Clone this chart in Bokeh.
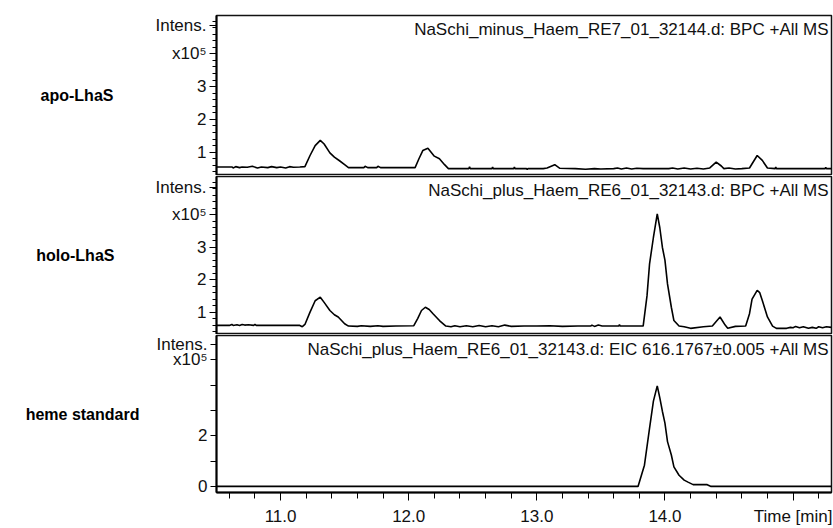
from bokeh.plotting import figure
from bokeh.layouts import column
from bokeh.models import Range1d, FixedTicker
from bokeh.core.properties import value
from bokeh.embed import file_html
from bokeh.resources import INLINE

FONT = "Liberation Sans"

# ---------------- data ----------------
x_start, x_end = 10.5, 15.3

apo_t = [10.5, 10.62, 10.63, 10.65, 10.68, 10.7, 10.74, 10.78, 10.82, 10.85, 10.9, 10.93, 10.97, 11.0, 11.04,
         11.07, 11.1, 11.15, 11.19, 11.23, 11.27, 11.31, 11.34, 11.385, 11.42, 11.46, 11.5, 11.53, 11.65, 11.66,
         11.68, 11.75, 11.76, 11.78, 12.05, 12.08, 12.11, 12.15, 12.2, 12.24, 12.28, 12.31, 12.47, 12.475, 12.48,
         12.65, 12.655, 12.66, 12.82, 12.825, 12.83, 12.92, 12.925, 12.93, 13.05, 13.08, 13.14, 13.18, 13.3, 13.38,
         13.45, 13.5, 13.6, 13.63, 13.66, 13.7, 13.74, 13.78, 13.83, 14.03, 14.06, 14.1, 14.15, 14.2, 14.25, 14.3,
         14.35, 14.40, 14.44, 14.46, 14.5, 14.55, 14.6, 14.66, 14.72, 14.76, 14.8, 14.86, 14.865, 14.87, 15.25,
         15.255, 15.26, 15.3]
apo_v = [0.55, 0.55, 0.52, 0.56, 0.53, 0.55, 0.54, 0.57, 0.52, 0.55, 0.53, 0.56, 0.53, 0.55, 0.52,
         0.56, 0.54, 0.55, 0.56, 0.9, 1.2, 1.36, 1.25, 0.98, 0.85, 0.74, 0.62, 0.53, 0.53, 0.57,
         0.53, 0.53, 0.57, 0.53, 0.53, 0.8, 1.05, 1.12, 0.88, 0.8, 0.62, 0.5, 0.5, 0.56, 0.5,
         0.5, 0.55, 0.5, 0.5, 0.55, 0.5, 0.5, 0.47, 0.5, 0.5, 0.52, 0.62, 0.51, 0.5, 0.48,
         0.5, 0.49, 0.5, 0.52, 0.49, 0.52, 0.49, 0.51, 0.5, 0.5, 0.52, 0.49, 0.52, 0.49, 0.51, 0.49,
         0.52, 0.7, 0.58, 0.5, 0.52, 0.49, 0.5, 0.52, 0.9, 0.75, 0.52, 0.5, 0.55, 0.5, 0.5,
         0.54, 0.5, 0.5]

holo_t = [10.5, 10.6, 10.62, 10.63, 10.66, 10.68, 10.7, 10.72, 10.75, 10.79, 10.8, 10.81, 11.15, 11.17, 11.19,
          11.23, 11.27, 11.31, 11.34, 11.385, 11.42, 11.45, 11.5, 11.53, 11.6, 11.63, 11.7, 11.76, 11.8, 11.9,
          12.04, 12.07, 12.1, 12.13, 12.16, 12.19, 12.24, 12.29, 12.33, 12.36, 12.4, 12.45, 12.5, 12.55, 12.6,
          12.65, 12.7, 12.75, 12.8, 12.9, 13.0, 13.1, 13.2, 13.32, 13.42, 13.43, 13.45, 13.48, 13.51, 13.64,
          13.645, 13.65, 13.83, 13.86, 13.88, 13.91, 13.94, 13.96, 13.98, 14.0, 14.02, 14.05, 14.07, 14.11, 14.15,
          14.2, 14.3, 14.37, 14.43, 14.47, 14.49, 14.55, 14.63, 14.66, 14.68, 14.72, 14.74, 14.76, 14.8, 14.84,
          14.87, 14.95, 14.98, 15.0, 15.02, 15.05, 15.08, 15.12, 15.15, 15.18, 15.2, 15.23, 15.26, 15.3]
holo_v = [0.59, 0.59, 0.62, 0.59, 0.61, 0.59, 0.62, 0.6, 0.61, 0.59, 0.62, 0.59, 0.59, 0.55, 0.62,
          1.0, 1.35, 1.46, 1.3, 1.05, 0.92, 0.85, 0.64, 0.57, 0.56, 0.58, 0.56, 0.58, 0.56, 0.57,
          0.58, 0.8, 1.05, 1.15, 1.08, 0.95, 0.74, 0.57, 0.55, 0.58, 0.55, 0.58, 0.55, 0.59, 0.55,
          0.58, 0.55, 0.6, 0.56, 0.57, 0.57, 0.58, 0.56, 0.57, 0.57, 0.6, 0.56, 0.6, 0.57, 0.57,
          0.62, 0.57, 0.57, 1.5, 2.49, 3.3, 4.03, 3.6, 3.0, 2.6, 1.87, 1.15, 0.74, 0.57, 0.55,
          0.5, 0.55, 0.57, 0.85, 0.6, 0.5, 0.56, 0.57, 0.95, 1.4, 1.67, 1.6, 1.36, 0.85, 0.57,
          0.5, 0.5, 0.53, 0.52, 0.56, 0.52, 0.55, 0.5, 0.53, 0.5, 0.55, 0.52, 0.55, 0.53]

heme_t = [10.5, 13.79, 13.84, 13.88, 13.91, 13.94, 13.96, 13.98, 14.0, 14.02, 14.05, 14.07, 14.11, 14.15,
          14.18, 14.22, 14.33, 14.36, 15.3]
heme_v = [0.0, 0.0, 0.84, 2.3, 3.37, 3.97, 3.5, 2.97, 2.5, 1.77, 1.24, 0.77, 0.44, 0.25,
          0.17, 0.07, 0.07, 0.0, 0.0]

panel_labels = ["apo-LhaS", "holo-LhaS", "heme standard"]
titles = ["NaSchi_minus_Haem_RE7_01_32144.d: BPC +All MS",
          "NaSchi_plus_Haem_RE6_01_32143.d: BPC +All MS",
          "NaSchi_plus_Haem_RE6_01_32143.d: EIC 616.1767\u00b10.005 +All MS"]

y_ranges = [(0.29, 5.17), (0.31, 5.18), (-0.24, 5.96)]

ab_major = [1, 2, 3, 4, 4.85]
ab_minor = [round(0.4 + 0.2 * i, 2) for i in range(24)]
ab_labels = {1: "1", 2: "2", 3: "3", 4: "x10\u2075", 4.85: "Intens."}

c_major = [0, 2, 5, 5.6]
c_minor = [1, 3, 4]
c_labels = {0: "0", 2: "2", 5: "x10\u2075", 5.6: "Intens."}

x_major = [11, 12, 13, 14, 15]
x_minor = [round(10.6 + 0.2 * i, 2) for i in range(24)]
x_labels = {11: "11.0", 12: "12.0", 13: "13.0", 14: "14.0", 15: "Time [min]"}

W = 833
heights = [175, 159, 194]
tops = [15, 1, 1]
label_standoffs = [39, 38, 14]


def make_panel(i, t, v, major, minor, labels, last):
    y0, y1 = y_ranges[i]
    p = figure(width=W, height=heights[i], output_backend="svg", toolbar_location=None,
               x_range=Range1d(x_start, x_end), y_range=Range1d(y0, y1),
               x_axis_location="below" if last else None,
               min_border_left=216, min_border_right=2, min_border_top=tops[i],
               min_border_bottom=0)
    p.grid.visible = False
    p.outline_line_color = "#111111"
    p.outline_line_width = 1.5
    p.background_fill_color = "white"
    p.border_fill_color = "white"

    p.line(t, v, line_color="black", line_width=1.6)

    p.text(x=[x_end], y=[y1], text=[titles[i]], text_align="right", text_baseline="top",
           x_offset=-3, y_offset=4, text_font=value(FONT), text_font_size="17px",
           text_color="#111111")

    ya = p.yaxis[0]
    ya.ticker = FixedTicker(ticks=major, minor_ticks=minor)
    ya.major_label_overrides = labels
    ya.major_label_text_font = FONT
    ya.major_label_text_font_size = "17px"
    ya.major_label_text_color = "#111111"
    ya.axis_line_color = "black"
    ya.axis_line_width = 2
    ya.major_tick_line_color = "black"
    ya.minor_tick_line_color = "black"
    ya.major_tick_out = 7 if not last else 6
    ya.major_tick_in = 0
    ya.minor_tick_out = 4 if not last else 6
    ya.minor_tick_in = 0
    ya.major_label_standoff = 3
    ya.axis_label = panel_labels[i]
    ya.axis_label_orientation = "horizontal"
    ya.axis_label_text_font = FONT
    ya.axis_label_text_font_style = "bold"
    ya.axis_label_text_font_size = "16px"
    ya.axis_label_text_color = "black"
    ya.axis_label_standoff = label_standoffs[i]

    if last:
        xa = p.xaxis[0]
        xa.ticker = FixedTicker(ticks=x_major, minor_ticks=x_minor)
        xa.major_label_overrides = x_labels
        xa.major_label_text_font = FONT
        xa.major_label_text_font_size = "17px"
        xa.major_label_text_color = "#111111"
        xa.major_label_text_line_height = 1.0
        xa.axis_line_color = "black"
        xa.axis_line_width = 2
        xa.major_tick_out = 8
        xa.major_tick_in = 0
        xa.minor_tick_out = 6
        xa.minor_tick_in = 0
        xa.major_label_standoff = 6
    return p


p1 = make_panel(0, apo_t, apo_v, ab_major, ab_minor, ab_labels, False)
p2 = make_panel(1, holo_t, holo_v, ab_major, ab_minor, ab_labels, False)
p3 = make_panel(2, heme_t, heme_v, c_major, c_minor, c_labels, True)

layout = column(p1, p2, p3, spacing=0)

open("out.html", "w").write(file_html(layout, INLINE))
